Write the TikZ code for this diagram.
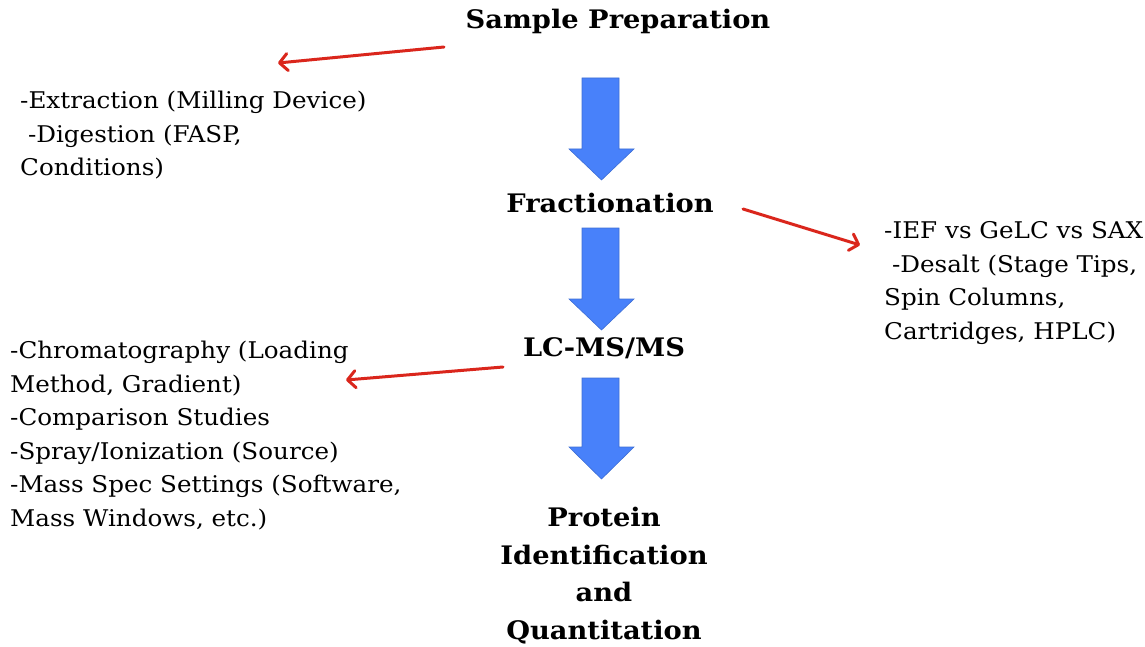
\documentclass[tikz,border=0pt]{standalone}
\usepackage{fontspec}
\setmainfont{DejaVu Serif}[FakeStretch=1.07]
\usetikzlibrary{arrows.meta}
\definecolor{blockblue}{RGB}{72,129,250}
\definecolor{arrowred}{RGB}{218,38,28}
\tikzset{
  title/.style={font=\fontsize{25.5}{37.5}\selectfont\bfseries, inner sep=0pt, align=center, anchor=base},
  body/.style={font=\fontsize{23}{33.5}\selectfont, inner sep=0pt, align=left, anchor=base west},
  blockarrow/.style={fill=blockblue, draw=blockblue!85!black, line width=0.6pt, line join=miter},
  redarrow/.style={draw=arrowred, line width=3pt, line cap=round, -{Straight Barb[length=8pt,width=17pt,line cap=round,line join=round]}}
}
\begin{document}
\begin{tikzpicture}[x=1pt,y=-1pt]
\useasboundingbox (0,0) rectangle (1145,647);
% titles (base anchor = baseline of last line)
\node[title] (sample) at (618,29) {Sample Preparation};
\node[title] (fract) at (610,212) {Fractionation};
\node[title] (lcms) at (604,356) {LC-MS/MS};
\node[title] (prot) at (604,639) {Protein\\Identification\\and\\Quantitation};
% body texts
\node[body] (sp) at (20,176) {-Extraction (Milling Device)\\ \ -Digestion (FASP,\\Conditions)};
\node[body] (fr) at (884,339) {-IEF vs GeLC vs SAX\\ \ -Desalt (Stage Tips,\\Spin Columns,\\Cartridges, HPLC)};
\node[body] (lc) at (10,526) {-Chromatography (Loading\\Method, Gradient)\\-Comparison Studies\\-Spray/Ionization (Source)\\-Mass Spec Settings (Software,\\Mass Windows, etc.)};
% block arrows
\foreach \t/\h/\e in {78/149/180, 228/299/330, 378/447/479}{
  \draw[blockarrow] (582,\t) -- (619,\t) -- (619,\h) -- (634,\h) -- (601.5,\e) -- (569,\h) -- (582,\h) -- cycle;
}
% red arrows
\coordinate (r1s) at (444,47); \coordinate (r1e) at (278,63);
\coordinate (r2s) at (743,209); \coordinate (r2e) at (860,245);
\coordinate (r3s) at (503,367); \coordinate (r3e) at (346,380);
\draw[redarrow] (r1s) -- (r1e);
\draw[redarrow] (r2s) -- (r2e);
\draw[redarrow] (r3s) -- (r3e);
\end{tikzpicture}
\end{document}
